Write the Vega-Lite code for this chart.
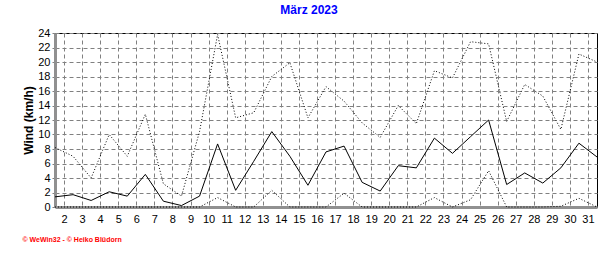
{
  "$schema": "https://vega.github.io/schema/vega-lite/v6.json",
  "width": 542,
  "height": 174,
  "autosize": {"type": "none"},
  "padding": {"left": 55, "top": 33, "right": 19, "bottom": 46},
  "background": "white",
  "title": {
    "text": "März 2023",
    "color": "#0000FF",
    "font": "Liberation Sans",
    "fontSize": 12,
    "fontWeight": "bold",
    "anchor": "middle",
    "dx": -17,
    "offset": 10
  },
  "config": {
    "view": {"stroke": "black", "strokeWidth": 1},
    "axis": {
      "labelFont": "Liberation Sans",
      "labelFontSize": 11,
      "labelColor": "black",
      "titleFont": "Liberation Sans",
      "gridColor": "#808080",
      "gridDash": [4, 3],
      "gridWidth": 1,
      "gridOpacity": 1,
      "domainColor": "#909090",
      "domainWidth": 3,
      "tickColor": "#808080"
    }
  },
  "data": {
    "values": [
      {"day": 1, "max": 8.2, "mean": 1.4, "min": 0},
      {"day": 2, "max": 7.0, "mean": 1.7, "min": 0},
      {"day": 3, "max": 4.0, "mean": 0.9, "min": 0},
      {"day": 4, "max": 10.0, "mean": 2.1, "min": 0},
      {"day": 5, "max": 7.0, "mean": 1.5, "min": 0},
      {"day": 6, "max": 12.8, "mean": 4.5, "min": 0},
      {"day": 7, "max": 3.2, "mean": 0.8, "min": 0},
      {"day": 8, "max": 1.5, "mean": 0.2, "min": 0},
      {"day": 9, "max": 10.4, "mean": 1.5, "min": 0},
      {"day": 10, "max": 23.8, "mean": 8.7, "min": 1.3},
      {"day": 11, "max": 12.3, "mean": 2.3, "min": 0},
      {"day": 12, "max": 13.0, "mean": 6.3, "min": 0},
      {"day": 13, "max": 18.0, "mean": 10.4, "min": 2.3},
      {"day": 14, "max": 19.9, "mean": 7.0, "min": 0},
      {"day": 15, "max": 12.3, "mean": 3.0, "min": 0},
      {"day": 16, "max": 16.6, "mean": 7.6, "min": 0},
      {"day": 17, "max": 14.6, "mean": 8.4, "min": 1.9},
      {"day": 18, "max": 11.6, "mean": 3.4, "min": 0},
      {"day": 19, "max": 9.6, "mean": 2.2, "min": 0},
      {"day": 20, "max": 14.0, "mean": 5.7, "min": 0},
      {"day": 21, "max": 11.5, "mean": 5.4, "min": 0},
      {"day": 22, "max": 18.8, "mean": 9.5, "min": 1.3},
      {"day": 23, "max": 17.8, "mean": 7.4, "min": 0},
      {"day": 24, "max": 22.8, "mean": 9.7, "min": 1.0},
      {"day": 25, "max": 22.5, "mean": 12.0, "min": 5.0},
      {"day": 26, "max": 11.8, "mean": 3.1, "min": 0},
      {"day": 27, "max": 16.9, "mean": 4.7, "min": 0},
      {"day": 28, "max": 15.3, "mean": 3.3, "min": 0},
      {"day": 29, "max": 10.7, "mean": 5.4, "min": 0.1},
      {"day": 30, "max": 21.1, "mean": 8.8, "min": 1.2},
      {"day": 31, "max": 20.0, "mean": 6.9, "min": 0}
    ]
  },
  "encoding": {
    "x": {
      "field": "day",
      "type": "quantitative",
      "scale": {"domain": [1, 31], "nice": false, "zero": false},
      "axis": {
        "values": [1.5, 2.5, 3.5, 4.5, 5.5, 6.5, 7.5, 8.5, 9.5, 10.5, 11.5, 12.5, 13.5, 14.5, 15.5, 16.5, 17.5, 18.5, 19.5, 20.5, 21.5, 22.5, 23.5, 24.5, 25.5, 26.5, 27.5, 28.5, 29.5, 30.5],
        "labelExpr": "format(datum.value + 0.5, 'd')",
        "ticks": false,
        "labelPadding": 6,
        "labelFlush": false,
        "labelOverlap": false,
        "title": "© WeWin32 - © Heiko Blüdorn",
        "titleColor": "#FF0000",
        "titleFontSize": 7,
        "titleFontWeight": "bold",
        "titleAnchor": "start",
        "titleAlign": "left",
        "titleBaseline": "middle",
        "titleX": -33,
        "titleY": 32
      }
    }
  },
  "layer": [
    {
      "mark": {"type": "line", "color": "black", "strokeWidth": 1, "strokeDash": [1, 2]},
      "encoding": {
        "y": {
          "field": "max",
          "type": "quantitative",
          "scale": {"domain": [0, 24], "nice": false},
          "axis": {
            "values": [0, 2, 4, 6, 8, 10, 12, 14, 16, 18, 20, 22, 24],
            "labelOverlap": false,
            "tickSize": 3,
            "labelPadding": 2,
            "title": "Wind (km/h)",
            "titleFontSize": 12,
            "titleFontWeight": "bold",
            "titleColor": "black",
            "titleAngle": -90,
            "titleBaseline": "middle",
            "titleAlign": "center",
            "titleX": -27,
            "titleY": 87
          }
        }
      }
    },
    {
      "mark": {"type": "line", "color": "black", "strokeWidth": 1},
      "encoding": {
        "y": {
          "field": "mean",
          "type": "quantitative",
          "scale": {"domain": [0, 24], "nice": false},
          "axis": {
            "values": [0, 2, 4, 6, 8, 10, 12, 14, 16, 18, 20, 22, 24],
            "labelOverlap": false,
            "tickSize": 3,
            "labelPadding": 2,
            "title": "Wind (km/h)",
            "titleFontSize": 12,
            "titleFontWeight": "bold",
            "titleColor": "black",
            "titleAngle": -90,
            "titleBaseline": "middle",
            "titleAlign": "center",
            "titleX": -27,
            "titleY": 87
          }
        }
      }
    },
    {
      "mark": {"type": "line", "color": "black", "strokeWidth": 1, "strokeDash": [1, 2]},
      "encoding": {
        "y": {
          "field": "min",
          "type": "quantitative",
          "scale": {"domain": [0, 24], "nice": false},
          "axis": {
            "values": [0, 2, 4, 6, 8, 10, 12, 14, 16, 18, 20, 22, 24],
            "labelOverlap": false,
            "tickSize": 3,
            "labelPadding": 2,
            "title": "Wind (km/h)",
            "titleFontSize": 12,
            "titleFontWeight": "bold",
            "titleColor": "black",
            "titleAngle": -90,
            "titleBaseline": "middle",
            "titleAlign": "center",
            "titleX": -27,
            "titleY": 87
          }
        }
      }
    }
  ]
}
